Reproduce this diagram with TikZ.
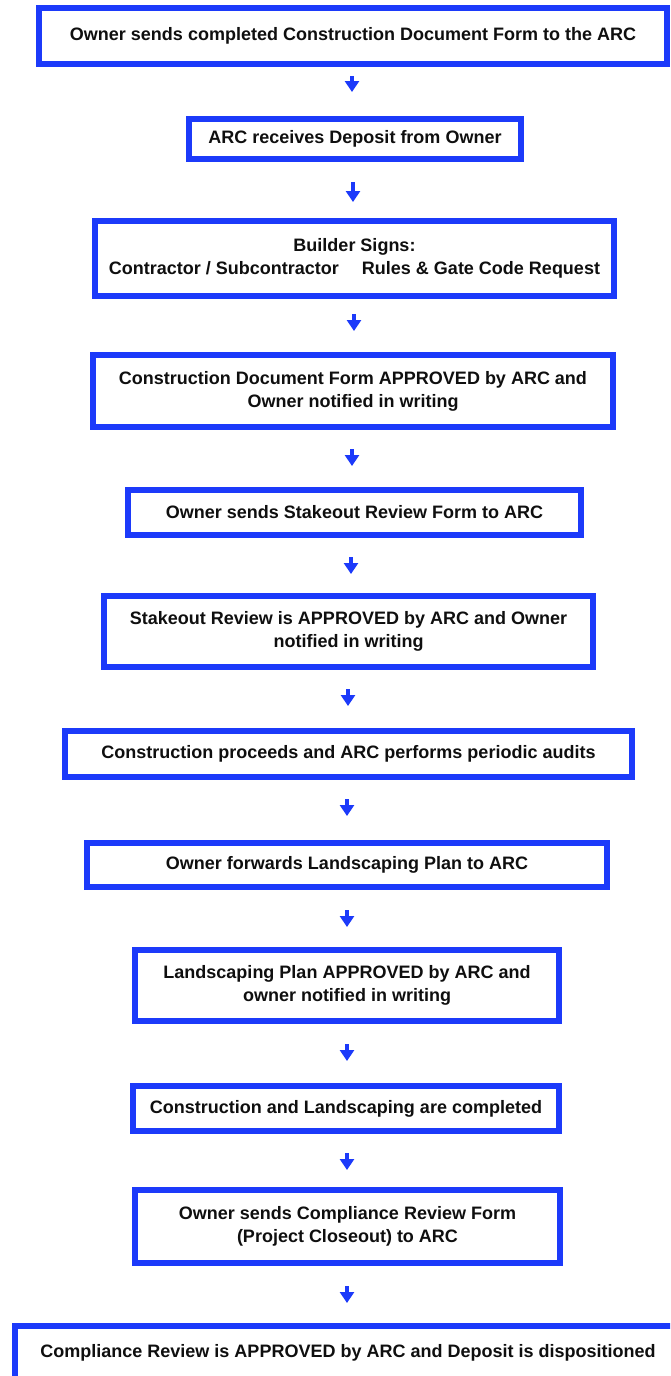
\documentclass[tikz,border=0pt]{standalone}
\usepackage{fontspec}
\setmainfont{Liberation Sans}
\usetikzlibrary{arrows.meta}
\definecolor{arcblue}{RGB}{28,58,250}
\definecolor{txt}{RGB}{15,15,15}
\begin{document}
\begin{tikzpicture}[x=1pt,y=1pt,
  stepbox/.style={draw=arcblue, line width=6pt, fill=white, inner sep=0pt,
    align=center, text=txt, font=\fontsize{18}{23}\selectfont\bfseries},
  arr/.style={draw=arcblue, line width=4pt, -{Triangle[width=14pt,length=11pt]}}]
\useasboundingbox (0,0) rectangle (670,-1376);
\clip (0,0) rectangle (670,-1376);
\fill[white] (0,0) rectangle (670,-1376);

\node[stepbox, minimum width=628pt, minimum height=56pt] (b1) at (353,-36)
  {Owner sends completed Construction Document Form to the ARC};
\node[stepbox, minimum width=332pt, minimum height=40pt] (b2) at (355,-139)
  {ARC receives Deposit from Owner};
\node[stepbox, minimum width=519pt, minimum height=75pt] (b3) at (354.5,-258.5)
  {Builder Signs:\\ Contractor / Subcontractor \quad Rules \& Gate Code Request};
\node[stepbox, minimum width=520pt, minimum height=72pt] (b4) at (353,-391)
  {Construction Document Form APPROVED by ARC and\\ Owner notified in writing};
\node[stepbox, minimum width=453pt, minimum height=45pt] (b5) at (354.5,-512.5)
  {Owner sends Stakeout Review Form to ARC};
\node[stepbox, minimum width=489pt, minimum height=71pt] (b6) at (348.5,-631.5)
  {Stakeout Review is APPROVED by ARC and Owner\\ notified in writing};
\node[stepbox, minimum width=567pt, minimum height=46pt] (b7) at (348.5,-754)
  {Construction proceeds and ARC performs periodic audits};
\node[stepbox, minimum width=520pt, minimum height=44pt] (b8) at (347,-865)
  {Owner forwards Landscaping Plan to ARC};
\node[stepbox, minimum width=424pt, minimum height=71pt] (b9) at (347,-985.5)
  {Landscaping Plan APPROVED by ARC and\\ owner notified in writing};
\node[stepbox, minimum width=426pt, minimum height=45pt] (b10) at (346,-1108.5)
  {Construction and Landscaping are completed};
\node[stepbox, minimum width=425pt, minimum height=73pt] (b11) at (347.5,-1226.5)
  {Owner sends Compliance Review Form\\ (Project Closeout) to ARC};
\node[stepbox, minimum width=666pt, minimum height=54pt] (b12) at (348,-1353)
  {Compliance Review is APPROVED by ARC and Deposit is dispositioned};

\coordinate (s1) at ([xshift=-1pt]b1.south);
\coordinate (s2) at ([xshift=-2pt]b2.south);
\coordinate (s3) at ([xshift=-0.5pt]b3.south);
\coordinate (s4) at ([xshift=-1pt]b4.south);
\coordinate (s5) at ([xshift=-3.5pt]b5.south);
\coordinate (s6) at ([xshift=-0.5pt]b6.south);
\coordinate (s7) at ([xshift=-1.5pt]b7.south);
\coordinate (s8) at (b8.south);
\coordinate (s9) at (b9.south);
\coordinate (s10) at ([xshift=1pt]b10.south);
\coordinate (s11) at ([xshift=-0.5pt]b11.south);

\draw[arr, shorten <=9pt, shorten >=24pt] (s1) -- (s1 |- b2.north);
\draw[arr, shorten <=20pt, shorten >=16pt] (s2) -- (s2 |- b3.north);
\draw[arr, shorten <=15pt, shorten >=21pt] (s3) -- (s3 |- b4.north);
\draw[arr, shorten <=19pt, shorten >=21pt] (s4) -- (s4 |- b5.north);
\draw[arr, shorten <=19pt, shorten >=19pt] (s5) -- (s5 |- b6.north);
\draw[arr, shorten <=19pt, shorten >=22pt] (s6) -- (s6 |- b7.north);
\draw[arr, shorten <=19pt, shorten >=24pt] (s7) -- (s7 |- b8.north);
\draw[arr, shorten <=20pt, shorten >=20pt] (s8) -- (s8 |- b9.north);
\draw[arr, shorten <=20pt, shorten >=22pt] (s9) -- (s9 |- b10.north);
\draw[arr, shorten <=19pt, shorten >=17pt] (s10) -- (s10 |- b11.north);
\draw[arr, shorten <=20pt, shorten >=20pt] (s11) -- (s11 |- b12.north);
\end{tikzpicture}
\end{document}
